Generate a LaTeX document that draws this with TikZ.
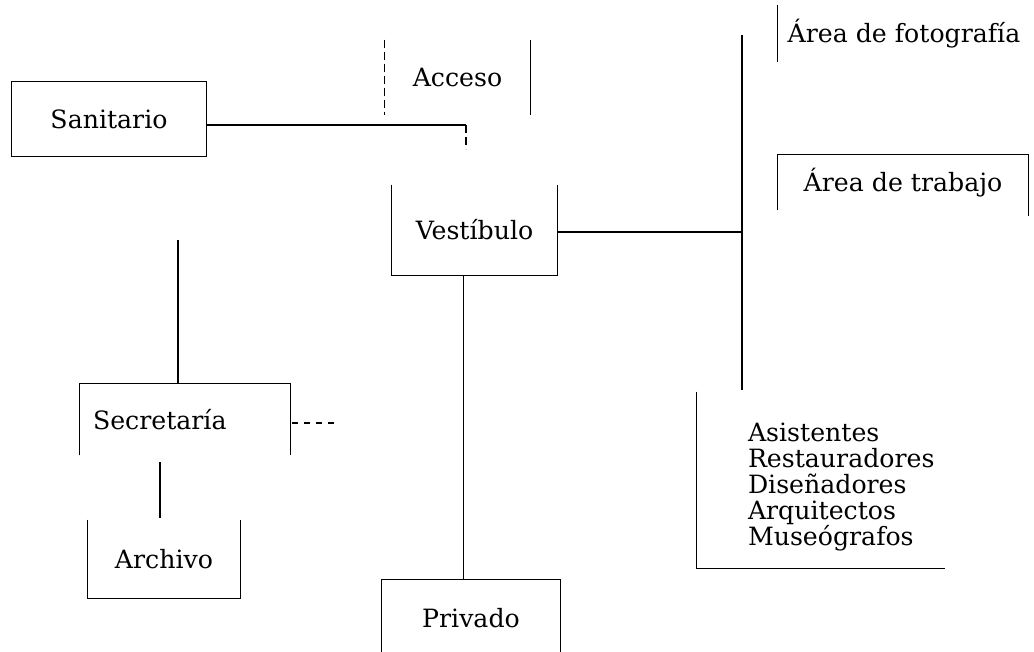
\documentclass[tikz,border=0pt]{standalone}
\usepackage{fontspec}
\setmainfont{DejaVu Serif}
\usetikzlibrary{positioning,calc}

\begin{document}
\begin{tikzpicture}[
    x=0.5pt, y=-0.5pt,
    roomBox/.style={rectangle, inner sep=0pt, font=\fontsize{12.6}{13}\selectfont},
    wallLine/.style={draw=black, line width=0.8pt},
    faintLine/.style={draw=black, line width=0.7pt, dash pattern=on 4pt off 2pt},
    gapLine/.style={draw=black, line width=0.7pt, dash pattern=on 3pt off 3pt}
]
    \useasboundingbox (0,0) rectangle (1034,652);

    % Rooms, left column
    \node[roomBox, minimum width=97pt, minimum height=37pt] (san) at (109,119) {Sanitario};
    \node[roomBox, minimum width=105pt, minimum height=35.5pt, text width=92pt, inner xsep=6.5pt, align=left] (sec) at (185,419.5) {Secretaría};
    \node[roomBox, minimum width=76pt, minimum height=39pt] (arch) at (164,559) {Archivo};

    % Rooms, middle column
    \node[roomBox, minimum width=72.5pt, minimum height=37.5pt] (acc) at (457.5,77.5) {\raisebox{-3pt}{Acceso}};
    \node[roomBox, minimum width=82.5pt, minimum height=45pt] (ves) at (474.5,230) {Vestíbulo};
    \node[roomBox, minimum width=89pt, minimum height=40pt] (priv) at (471,620) {\raisebox{2pt}{Privado}};

    % Work areas, right column
    \node[roomBox, minimum width=126pt, minimum height=28.5pt] (foto) at (904,33.5) {Área de fotografía};
    \node[roomBox, minimum width=125pt, minimum height=27.5pt] (trab) at (903,182.5) {\raisebox{-2pt}{Área de trabajo}};
    \node[roomBox, minimum width=124pt, minimum height=88pt] (staff) at (821,480) {};
    \node[roomBox, align=left, anchor=west, right=25.5pt of staff.west, yshift=-3.5pt] (crew) {Asistentes\\Restauradores\\Diseñadores\\Arquitectos\\Museógrafos};

    % Box sides that are drawn
    \draw[wallLine] (san.north west) rectangle (san.south east);
    \draw[faintLine] (acc.north west) -- (acc.south west);
    \draw[wallLine] (acc.north east) -- (acc.south east);
    \draw[wallLine] (ves.north west) -- (ves.south west) -- (ves.south east) -- (ves.north east);
    \draw[wallLine] (priv.south west) -- (priv.north west) -- (priv.north east) -- (priv.south east);
    \draw[wallLine] (sec.south west) -- (sec.north west) -- (sec.north east) -- (sec.south east);
    \draw[wallLine] (arch.north west) -- (arch.south west) -- (arch.south east) -- (arch.north east);
    \draw[wallLine] (foto.north west) -- (foto.south west);
    \draw[wallLine] (trab.south west) -- (trab.north west) -- (trab.north east) -- ([yshift=-3pt]trab.south east);
    \draw[wallLine] (staff.north west) -- (staff.south west) -- (staff.south east);

    % Connectors
    \coordinate (hall) at (466,125);
    \coordinate (busTop) at (742,35);
    \coordinate (busEnd) at (742,390);
    \coordinate (secUp) at (178,240);
    \coordinate (secGap) at (335,423);

    \draw[wallLine] (san.east |- hall) -- (hall);
    \draw[faintLine] (hall) -- ([yshift=-12pt]hall);
    \draw[wallLine] (busTop) -- (busEnd);
    \draw[wallLine] ([yshift=-1pt]ves.east) -- ([yshift=-1pt]ves.east -| busTop);
    \draw[wallLine] ([xshift=-5.5pt]ves.south) coordinate (vp) -- (vp |- priv.north);
    \draw[wallLine] (secUp) -- (secUp |- sec.north);
    \draw[gapLine] ([xshift=1pt]sec.east |- secGap) -- (secGap);
    \draw[wallLine] ([xshift=-2pt,yshift=-3.5pt]sec.south -| arch.north) -- ([xshift=-2pt,yshift=1pt]arch.north);
\end{tikzpicture}
\end{document}
